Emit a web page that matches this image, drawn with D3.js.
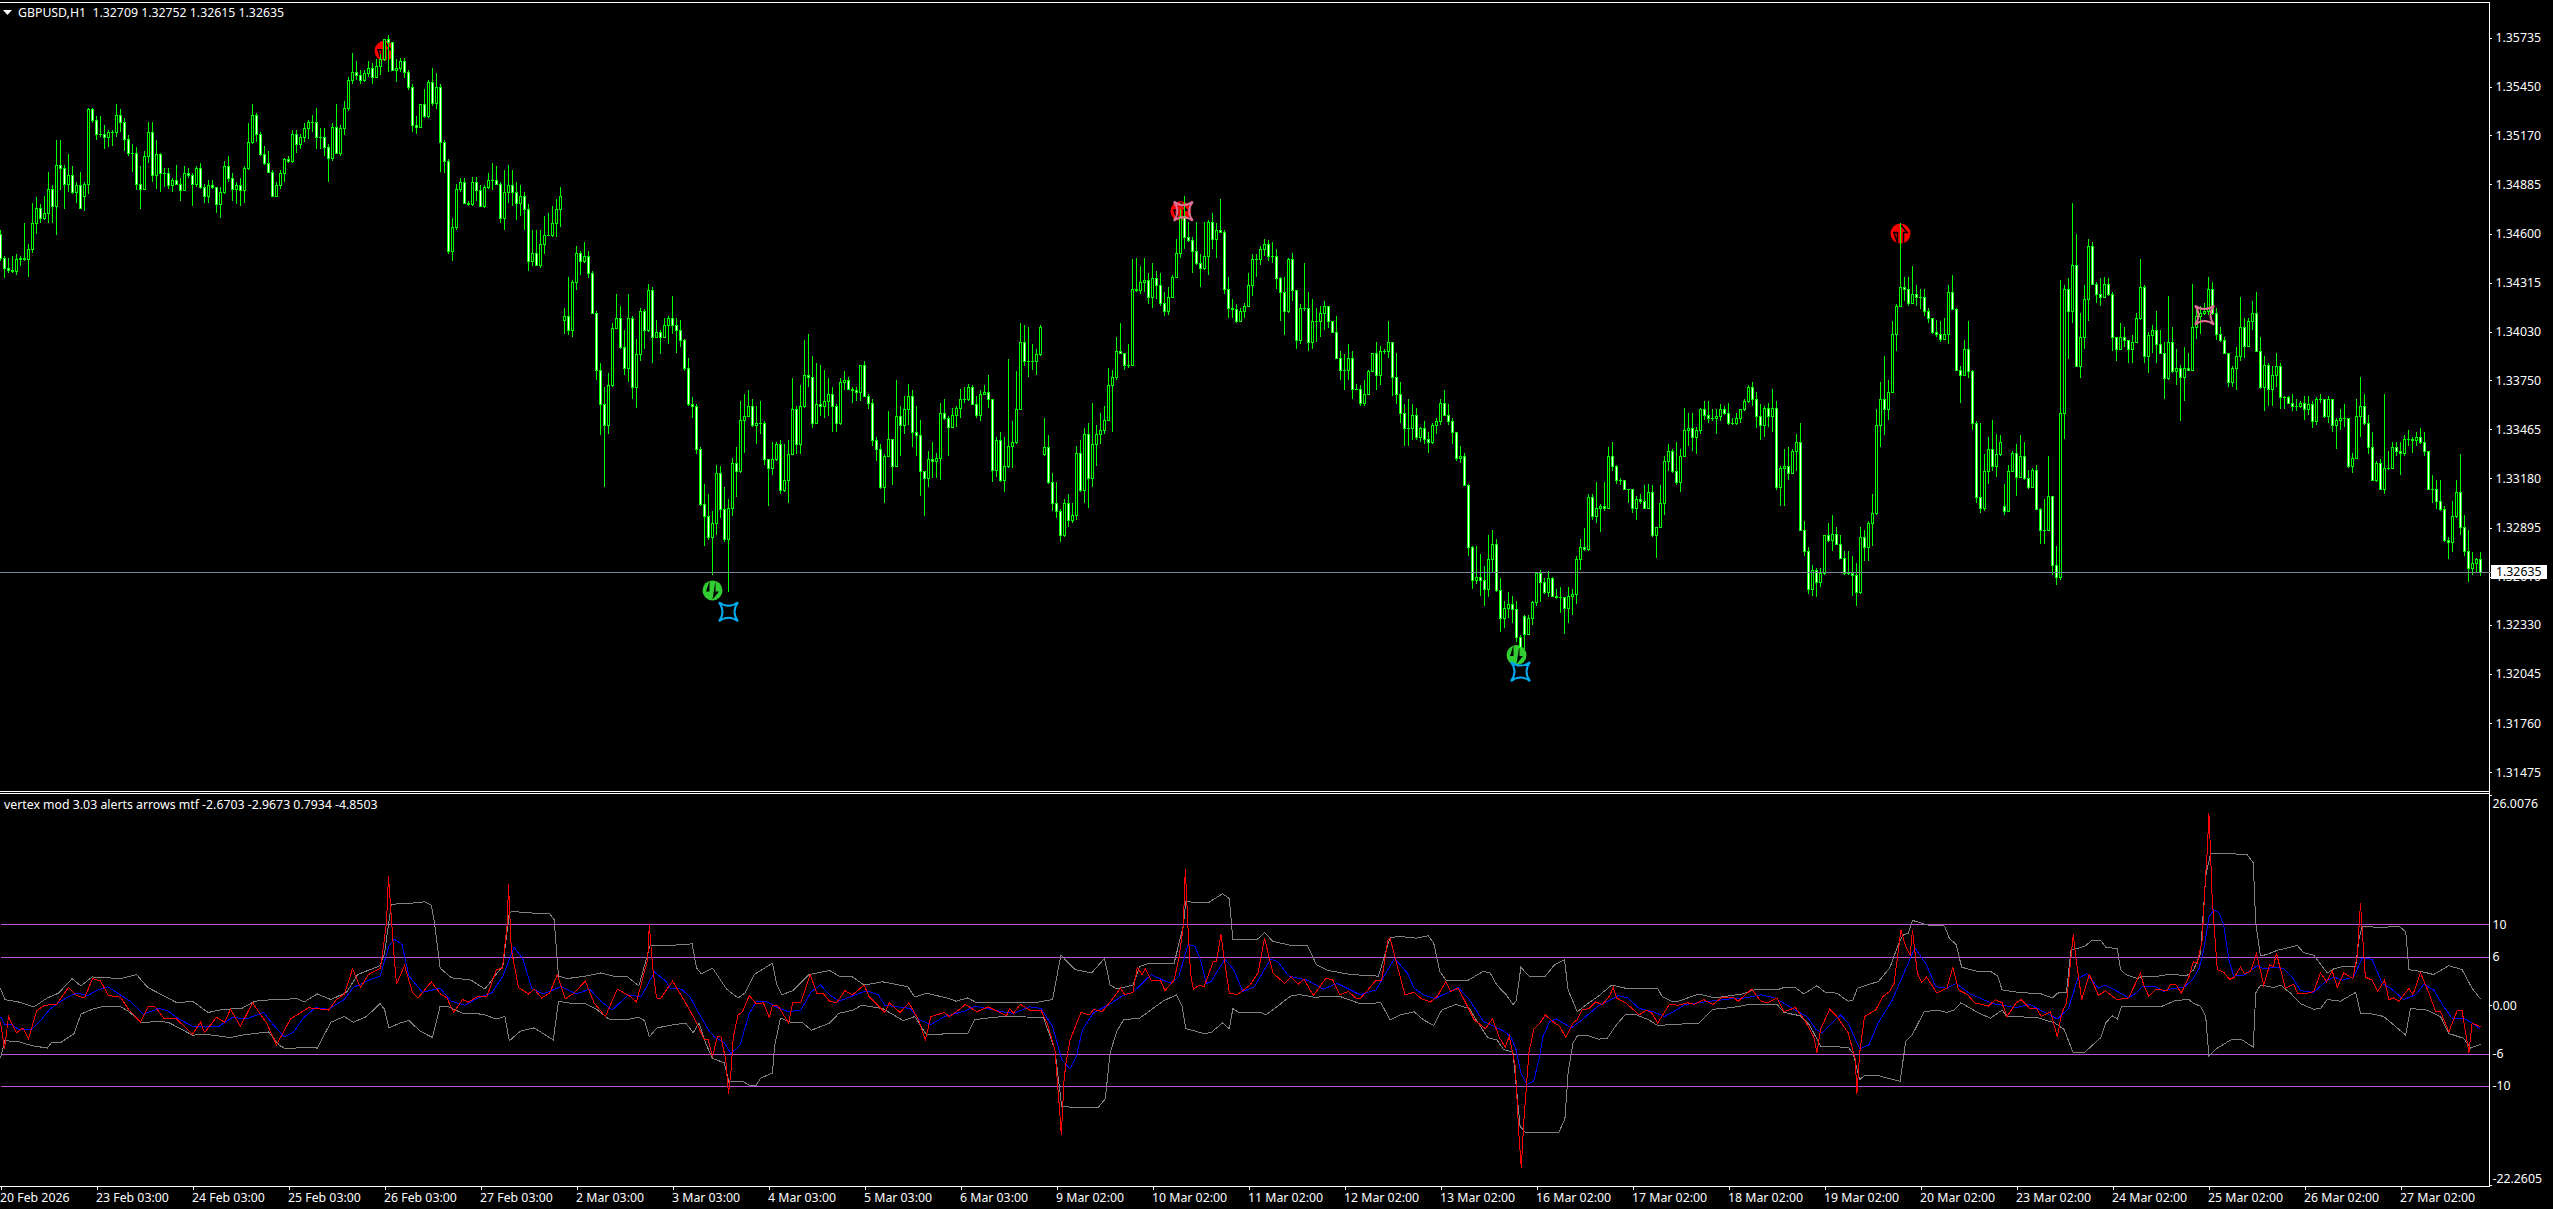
<!DOCTYPE html>
<html>
<head>
<meta charset="utf-8">
<script src="https://cdn.jsdelivr.net/npm/d3@7"></script>
<style>
	html, body { margin: 0; padding: 0; background: #000; overflow: hidden; }
	text { font-family: "Noto Sans", sans-serif; font-size: 12.3px; fill: #fff; }
</style>
</head>
<body>
<script>
// prices are pips above 1.3000, one value per hourly bar
const closes = [
	446,440,439,438,445,446,445,451,466,475, 469,472,486,476,500,498,489,494,484,488,
	475,489,532,526,518,518,516,519,519,529, 525,515,507,507,489,486,505,519,494,506,
	495,495,488,491,489,485,495,494,489,498, 487,482,488,487,477,484,499,492,486,488,
	485,498,513,529,518,506,501,496,482,488, 495,503,502,518,512,516,521,525,525,516,
	516,510,504,522,507,521,533,549,554,552, 549,553,556,551,557,561,573,571,555,556,
	560,554,545,523,522,535,528,548,536,545, 513,502,450,464,486,490,478,477,490,485,
	476,487,491,491,489,469,484,488,484,478, 482,474,444,449,442,454,459,459,466,474,
	482,412,404,432,449,444,447,437,414,381, 361,349,372,405,411,394,382,411,371,390,
	415,404,427,400,403,400,407,411,407,404, 398,382,361,360,335,303,296,284,292,321,
	300,283,301,327,322,352,354,360,349,350, 350,329,324,329,338,311,317,332,358,338,
	360,378,377,350,361,360,363,367,360,350, 374,375,370,369,368,384,366,362,340,335,
	313,331,341,325,354,349,358,366,345,343, 322,318,329,328,330,356,353,348,355,359,
	364,364,371,361,355,367,368,364,323,340, 317,325,337,339,358,397,386,386,386,390,
	406,336,316,304,299,285,304,294,297,333, 311,344,318,338,344,346,352,372,377,392,
	391,384,384,428,427,432,433,423,434,430, 420,415,423,435,449,470,458,456,450,443,
	440,447,467,457,462,461,428,417,416,409, 415,418,430,445,445,451,454,447,447,434,
	426,415,445,427,398,417,417,397,409,409, 414,418,409,403,388,381,381,388,370,370,
	362,367,380,391,378,392,392,397,377,367, 356,347,347,355,342,347,341,339,349,351,
	362,355,351,345,330,331,314,278,259,261, 259,254,271,280,253,237,243,245,242,226,
	220,228,237,246,263,258,252,260,250,249, 249,243,250,251,271,278,277,307,296,301,
	302,301,331,325,317,317,312,312,301,306, 305,301,310,285,290,304,328,334,322,316,
	331,346,347,342,346,358,355,353,353,354, 358,356,350,350,353,358,363,371,364,354,
	349,359,354,359,313,324,325,321,334,339, 288,276,254,265,258,263,285,282,286,280,
	272,263,263,262,252,284,278,292,298,349, 364,358,368,402,418,429,428,420,425,423,
	423,415,411,403,402,399,402,426,416,381, 378,393,380,350,307,301,322,335,325,332,
	339,299,322,333,319,331,318,313,323,300, 288,288,308,268,261,356,428,415,442,383,
	400,422,453,431,425,423,431,425,400,393, 400,398,393,397,411,429,389,401,404,396,
	391,376,397,380,382,377,382,381,406,412, 414,415,428,414,402,398,391,374,382,389,
	406,395,409,414,392,371,384,370,378,383, 365,365,362,360,360,362,358,361,351,364,
	364,354,364,349,352,353,353,325,330,354, 360,350,336,317,327,312,324,324,336,334,
	333,341,341,340,342,339,334,312,312,305, 300,282,281,296,310,290,276,266,269,271,263.5
]
const highs = [
	462,447,446,447,448,447,466,454,478,481, 477,482,496,488,514,514,500,506,499,490,
	496,490,533,533,528,528,523,520,520,535, 532,527,517,512,510,499,508,525,525,514,
	507,498,498,492,500,492,499,498,495,499, 501,489,491,491,487,487,502,505,495,490,
	492,499,524,535,530,519,511,508,497,490, 497,504,505,520,520,518,524,526,529,533,
	521,521,512,524,535,523,537,551,565,560, 555,555,560,559,561,564,573,575,564,561,
	562,562,555,547,528,535,544,549,556,553, 547,514,503,469,489,492,492,479,493,493,
	488,488,495,501,499,490,497,500,497,490, 488,484,477,462,462,462,470,472,476,480,
	487,417,435,433,453,450,455,450,438,415, 385,371,379,408,425,418,404,425,412,399,
	417,416,431,429,410,404,411,412,424,411, 410,399,388,365,361,336,315,309,299,326,
	325,313,306,330,336,363,367,369,364,360, 363,351,329,339,339,340,338,340,376,360,
	372,398,402,389,385,384,381,376,371,361, 376,380,377,371,371,384,386,367,364,342,
	338,332,357,341,375,360,366,373,369,360, 352,322,334,339,333,362,364,354,359,360,
	370,371,373,372,366,369,372,378,364,342, 345,342,387,351,380,408,407,406,396,393,
	407,353,343,321,316,300,306,309,304,337, 340,347,350,362,349,356,360,382,381,400,
	408,391,396,445,446,441,446,437,443,438, 437,426,429,436,457,474,482,467,458,467,
	448,467,468,472,466,480,462,435,422,419, 417,420,437,448,448,453,457,456,455,451,
	435,435,446,449,427,419,443,426,422,417, 418,421,418,409,412,392,390,396,392,373,
	372,375,381,391,397,395,393,409,397,391, 374,361,364,361,359,348,351,345,350,353,
	364,369,361,353,345,337,333,315,279,279, 274,267,285,288,283,260,247,252,250,247,
	227,239,239,247,263,265,260,264,261,254, 255,249,255,254,273,283,289,309,309,316,
	303,316,336,339,326,318,317,312,312,308, 309,314,315,314,290,314,331,338,335,339,
	335,359,356,356,348,359,363,363,358,358, 361,360,362,353,356,358,364,372,374,368,
	361,360,362,370,363,325,335,336,335,344, 350,293,278,268,266,266,285,292,297,290,
	285,276,276,273,269,290,288,293,309,358, 374,389,375,409,419,466,435,435,441,430,
	428,428,417,411,410,409,411,430,436,417, 383,398,409,381,351,350,332,342,352,344,
	343,315,326,334,338,343,339,323,324,326, 301,306,331,308,279,433,430,434,478,460,
	414,430,457,455,432,434,435,434,426,400, 408,406,398,401,414,445,430,403,407,415,
	404,397,424,406,393,384,394,391,431,418, 418,420,435,432,417,406,400,391,383,394,
	423,411,411,421,426,400,389,385,383,391, 385,366,366,367,364,363,366,366,363,365,
	367,364,366,364,353,358,361,353,333,364, 377,367,355,345,328,329,367,334,339,339,
	339,343,346,342,345,347,345,334,320,317, 317,302,284,305,317,332,297,288,275,272,275.2
]
const lows = [
	444,434,437,437,436,441,444,435,449,460, 466,468,466,466,459,485,474,484,483,478,
	474,473,483,524,514,516,509,510,511,516, 519,508,505,496,485,474,485,501,490,486,
	484,487,486,484,488,479,485,492,476,487, 486,478,478,486,472,469,483,490,479,477,
	476,478,497,512,513,505,500,495,482,482, 486,490,501,501,507,509,513,515,519,509,
	509,505,490,502,506,505,517,531,547,549, 547,548,551,547,551,552,560,554,555,548,
	554,550,543,519,518,522,527,527,534,532, 496,495,448,444,462,484,477,476,476,479,
	476,475,486,485,489,466,462,478,476,468, 470,462,438,441,442,440,448,459,458,458,
	464,402,401,400,427,436,443,434,414,375, 343,313,344,371,405,393,378,374,364,359,
	386,393,403,385,400,390,400,396,402,391, 394,380,360,353,332,302,279,282,262,285,
	295,281,252,296,307,321,333,354,348,338, 344,326,302,320,328,309,310,304,332,332,
	332,359,371,347,350,354,353,354,345,345, 349,369,369,362,363,363,366,358,337,328,
	312,304,331,314,325,331,344,349,336,331, 308,296,313,318,318,317,352,331,348,348,
	353,362,363,361,353,351,367,359,316,319, 316,310,324,324,338,358,383,377,381,378,
	389,331,315,299,295,281,284,290,292,294, 310,304,301,313,325,338,344,352,345,375,
	390,381,382,383,426,425,426,419,417,422, 418,412,413,423,435,446,451,455,437,442,
	429,439,436,451,446,461,425,411,411,408, 409,411,418,424,435,442,447,444,443,428,
	409,401,414,421,393,396,415,392,393,397, 400,404,405,403,387,375,369,375,364,369,
	360,360,367,380,369,372,390,388,366,361, 350,337,337,340,340,339,338,333,338,344,
	349,354,349,338,328,327,314,273,254,257, 250,244,249,263,252,229,231,237,234,223,
	219,219,228,233,244,246,251,249,249,248, 240,228,234,239,245,265,276,276,294,292,
	287,299,301,322,315,314,311,304,298,294, 303,300,301,284,272,289,297,322,321,314,
	310,331,337,334,332,344,352,350,351,344, 351,355,349,349,349,350,357,362,360,347,
	340,342,348,345,311,302,302,317,321,322, 288,273,251,250,249,255,262,281,276,280,
	271,262,262,250,244,251,270,270,279,297, 336,343,352,368,392,418,421,418,419,418,
	416,412,408,402,400,397,398,396,416,380, 362,378,376,346,304,298,299,315,322,319,
	331,297,299,322,308,318,317,312,313,300, 280,280,288,262,256,259,341,387,408,383,
	376,393,409,430,420,418,423,424,392,386, 393,394,385,385,397,410,385,379,391,385,
	390,364,375,379,372,351,363,381,381,399, 402,413,413,413,398,397,391,371,371,369,
	386,388,394,404,392,370,357,360,360,371, 358,358,361,357,357,359,352,355,347,349,
	362,353,350,345,335,346,348,324,321,329, 342,349,332,317,316,311,309,323,324,331,
	320,331,337,333,337,338,331,311,304,300, 299,281,271,275,295,285,273,258,262,263,261.5
]
// opens follow the previous close except on Monday gaps
const firstOpen = 460
const gapBars = [21, 141, 261, 381, 501]
const gapOpens = [482, 410, 332, 238, 302]

const priceTicks = [1.35735,1.3545,1.3517,1.34885,1.346,1.34315,1.3403,1.3375,1.33465,1.3318,1.32895,1.3261,1.3233,1.32045,1.3176,1.31475]
const lastPrice = 1.32635
const timeLabels = ["20 Feb 2026","23 Feb 03:00","24 Feb 03:00","25 Feb 03:00","26 Feb 03:00","27 Feb 03:00","2 Mar 03:00","3 Mar 03:00","4 Mar 03:00","5 Mar 03:00","6 Mar 03:00","9 Mar 02:00","10 Mar 02:00","11 Mar 02:00","12 Mar 02:00","13 Mar 02:00","16 Mar 02:00","17 Mar 02:00","18 Mar 02:00","19 Mar 02:00","20 Mar 02:00","23 Mar 02:00","24 Mar 02:00","25 Mar 02:00","26 Mar 02:00","27 Mar 02:00"]
const barsPerLabel = 24

// [bar, price in pips]
const downCircles = [[96, 566], [295, 473], [475, 460]]
const upCircles = [[178, 253], [379, 215.5]]
const blueStars = [[182, 240.6], [380, 205.9]]
const pinkStars = [[295.7, 473], [551, 412.7]]

const indicatorLevels = [10, 6, -6, -10]
const indicatorTicks = [26.0076, 10, 6, 0, -6, -10, -22.2605]

// [bar, value] read where each line turns
const mainLine = [[0,-2.1],[1,-5.4],[2,-1.4],[4,-3.4],[5.6,-2.8],[7,-4.2],[9,-.7],[11,0],[14,.1],[17,2.2],[19,1.2],[21,.9],[23,3.3],[25,3],[27,1.2],[30,1],[32,-.5],[35,-2.1],[37,-.1],[38.5,-.1],[41,-1.7],[44,-1.7],[48,-3.6],[50,-2.1],[51,-3.4],[54,-1.5],[56,-2.1],[57.5,-.5],[60,-2.6],[63,.3],[66.5,-2.2],[69,-4.9],[72.5,-1.7],[77,-.3],[82,-.6],[84,.7],[86,1.4],[88,4.5],[90,2.2],[92,3.8],[95,4.6],[96.5,10.2],[97,16],[98.2,7.3],[99,2.6],[101,4.9],[103,1.6],[104.4,.9],[107.7,2.9],[110,1.4],[111.6,.9],[113.3,-.9],[115.5,.7],[117,.4],[119.4,1.1],[121.6,1.1],[124,4.4],[125.5,4.6],[126.7,10.2],[127,15],[127.7,6.9],[129.5,2.2],[132,1.4],[133.4,2],[135.3,.9],[137.3,1.5],[139.2,3.8],[141.2,.8],[143.4,1.5],[146.2,3],[148.4,.3],[151.2,-1.4],[154.2,2],[157.4,1.1],[159,.4],[161.8,5.7],[162.2,10],[163,4.9],[164,.9],[165,.8],[168,3],[170.8,.7],[172.3,-.6],[174,-2.2],[176,-4.3],[176.9,-4.2],[178,-6.4],[179.2,-3.9],[180.1,-3.9],[181.3,-6.7],[182,-11],[182.6,-8.3],[183.2,-3.9],[184.4,-1.2],[185.5,-.8],[187.2,1.2],[188.9,.2],[190.7,.3],[192.2,-1.5],[193,0],[194.3,0],[197,-2.2],[198.1,.4],[200.1,.4],[202.4,3.8],[204.1,1.5],[205.6,1.5],[207.3,.5],[209,.3],[211.1,1.8],[213,1.3],[215.9,2.5],[217.1,1.1],[221.1,-.9],[222.2,.3],[224.9,-.9],[227.1,.3],[229.7,-2],[231.2,-4.3],[232.6,-1.4],[236,-.9],[237.2,-1.4],[239.5,-.6],[241.2,.1],[244.1,-.8],[246.9,-.2],[251.5,-1.3],[252.3,-.4],[253.2,-1],[255,.1],[257.3,-.6],[260.1,-.6],[261.8,-2.4],[263.6,-5.5],[264.7,-12.5],[265.2,-16.1],[265.9,-9.2],[266.4,-7],[267.4,-4.3],[270.1,-.9],[272.2,-1.2],[273.3,-.5],[275.4,-.8],[277.9,.7],[280,2.1],[281.1,1.3],[283.1,1.6],[284.2,4.7],[285.4,3.8],[286.2,4.5],[287.7,3.1],[290,3.1],[291.1,1.8],[293.4,3.1],[294.6,5.8],[295.7,9.8],[296.2,16.9],[296.9,9.3],[297.5,4],[298.2,2],[299.7,2.5],[300.9,2.3],[303.2,5.4],[304,5.4],[305.1,8.8],[306,5.5],[307.2,1.5],[309.2,1.3],[312.4,2.5],[314.4,4],[316,8.3],[318.1,4],[321,2.7],[322.7,3.5],[324.4,2.6],[325.9,3.2],[328.2,1.2],[331.3,3.3],[333,3.2],[334.8,1.3],[337,1.7],[338.8,.9],[339.9,.8],[342.2,2.1],[343.9,3.1],[345.3,3.1],[346.8,8],[347.4,8.3],[350,3.35],[351.1,1.3],[353.4,1.6],[355.2,.8],[357.5,.4],[359.2,1.1],[361.3,2.9],[362.6,1.7],[364.4,2.1],[366.1,.5],[368.4,-1.8],[371.2,-2.9],[373,-1.7],[374.7,-4],[376.2,-5.2],[377.2,-3.8],[378.7,-7.6],[379.6,-16],[380.2,-20.2],[380.8,-14.6],[382.1,-5.9],[383.3,-3],[385,-2.1],[386.2,-1.2],[388.5,-2.2],[389.8,-2.6],[391.3,-4],[393.1,-2.2],[394.2,-1.8],[395.4,-.6],[397.1,-.4],[398.8,.4],[400.5,.1],[402.2,1.1],[403.2,2.2],[404,.9],[406.3,.3],[409.7,-1.2],[411.4,-.6],[412.9,-1],[414.3,-2.2],[417.2,.1],[419.5,0],[421.8,.3],[423.5,.1],[425.8,.7],[428.1,.1],[430.4,1],[433.2,1],[434.4,.5],[437.8,2],[440.1,.5],[441.8,.3],[444.1,.9],[445.9,-.8],[448.7,-.3],[451,-1.8],[453.3,-3.9],[454.1,-5.9],[455,-3],[457.3,-.5],[459.1,-1.4],[461.9,-3.4],[463.7,-6.7],[464.1,-11],[464.8,-5.9],[466,-1.4],[468.8,-.6],[470.6,1.1],[472.3,1.7],[473.4,2.7],[475.1,9.3],[476.3,7.3],[477.4,6.2],[478,9.3],[479.2,4],[480.3,2.8],[481.5,3.5],[484.1,1.5],[486.6,2.1],[488.1,4.7],[489.5,1.9],[491.8,1.3],[493.5,.3],[497,-.1],[498.7,.7],[500.4,.3],[501.6,-1.4],[503.9,.3],[505.2,.7],[507.3,-.4],[509,-.4],[510.2,-1.4],[512.5,-.8],[514.2,-3.9],[515.3,-1],[516.5,.3],[518.2,8.8],[518.8,6],[520.3,.7],[522.2,3.8],[524.5,1.2],[526.2,1.8],[529.1,.7],[532,.9],[533.75,2.7],[535,4],[535.8,2.5],[537.1,1.1],[538.8,2],[541.7,1.8],[542.5,2.6],[543.8,2.6],[545.2,1.5],[547.1,3.5],[548.2,5.4],[549.2,5.2],[550.4,8],[551.2,15.4],[551.7,19.1],[552.1,23.8],[552.5,19.1],[552.9,13.4],[553.3,10.5],[554.2,4.4],[555.8,4.1],[557.3,3.2],[558.5,3.5],[560,4.7],[561,3.9],[562.5,4.2],[564,6.4],[565.8,2.5],[567.3,5],[568.2,4.8],[569,6.4],[571.2,2.1],[573.3,2.6],[574.3,1.4],[576.7,1.5],[578.3,1.7],[580,4],[581.5,2.9],[582.9,4.3],[584.2,2.2],[585.8,4],[588.1,3.3],[589.2,6.2],[590,12.6],[590.4,9.5],[591.2,3.5],[592.9,3.1],[594.3,1.7],[596,3.1],[597.1,.7],[598.2,.9],[599.6,.5],[602.1,2.1],[603.1,1.3],[605,4],[607.1,1.5],[608.8,-.8],[610,-.8],[612.1,-3.3],[614.2,-.6],[615.4,-.7],[617.1,-5.9],[617.9,-2.2],[620,-2.67]]

const signalLine = [[0,-1.4],[1.1,-2.4],[2.8,-2.4],[4.5,-3],[6.1,-3],[7.8,-3],[10,-1.9],[12.3,-.5],[14.5,.3],[16.7,1],[19,1.5],[21.8,1.2],[24,1.8],[26.8,2.3],[29.6,1.4],[32.4,.5],[35.7,-1.1],[39.6,-.4],[41.9,-.7],[44.6,-1.7],[48,-2.6],[51.3,-2.7],[54.7,-2.6],[58,-1.5],[61.4,-1.7],[65.8,-.9],[68,-2.3],[70.9,-3.9],[73.1,-3.4],[75.9,-1.5],[78.7,-.3],[82,-.5],[85.9,.7],[88.2,2.2],[92.6,3.2],[94.9,3.6],[97.1,7.3],[98.4,8.2],[100.4,7.5],[102.1,3.6],[105.5,1.6],[109.9,2.1],[112.7,.5],[116.1,0],[119.4,.9],[122.8,1.5],[125.6,3.6],[128.4,7.2],[130.6,5.7],[132.8,2.1],[135.6,1.4],[140.1,2.3],[144,1.4],[147.3,2],[150.1,.5],[152.9,-.6],[156.8,1.2],[160.2,1.1],[163.5,4.1],[166.3,3],[167.4,2.1],[170.2,2],[172.3,1.1],[174.6,-1],[176.9,-3],[178.6,-4],[180.9,-4.6],[182.6,-6],[184.9,-4.9],[187.2,-1],[188.9,.4],[191.2,.5],[194.7,-.4],[197,-.8],[200.1,-.6],[202.7,1.7],[205,2.5],[207.3,1.3],[209.6,.5],[216.5,1.8],[219.4,1.3],[221.1,0],[227.4,-.4],[229.7,-1.8],[232.6,-2.4],[236,-1.4],[241.2,-.7],[243.5,-.1],[250.4,-.8],[253.2,-1],[257.3,-.2],[260.1,-.4],[263,-2.6],[265.3,-6.7],[267.4,-7.9],[269,-6.3],[270.5,-3],[273.3,-.9],[277.3,.1],[280.2,1.1],[283.1,1.6],[287.7,3.8],[290.6,3.1],[292.8,2.7],[294.6,3.6],[296.9,7.5],[298.6,7.3],[300,5.6],[301.5,2.7],[302.6,2.9],[306.1,5.7],[308.3,4.4],[310.6,1.7],[313.5,2.3],[317.5,5.7],[319.3,5.4],[322.1,3.6],[326.7,3.1],[330.7,2],[334.2,2.7],[339.9,1.3],[343.9,1.9],[348.5,5.8],[351.7,4],[353.4,2.1],[355.7,1.3],[358.6,.8],[361.5,1.5],[364.4,2.2],[367.2,.7],[370.7,-2],[372.4,-2.4],[375.8,-3.2],[377.6,-3.9],[378.9,-5.5],[380.1,-8.4],[381.6,-9.8],[383.3,-9.4],[384.8,-6.3],[385.6,-3.9],[387.3,-2],[389,-1.7],[392.7,-2.8],[395.4,-1.8],[399.4,-.1],[404.5,1.2],[406.8,.9],[409.7,-.4],[413.1,-.8],[416,-1.4],[418.9,-.6],[421.2,.1],[425.8,.4],[432.7,.8],[436.1,.9],[440.1,1.3],[443.6,.9],[448.7,-.6],[451.6,-1.4],[453.9,-3],[455.4,-3.4],[457.9,-2.2],[460,-1.2],[461.9,-2.2],[464.8,-5.4],[467.1,-4.9],[469.4,-2.2],[472.8,.5],[475.7,3.8],[478.6,7.1],[481.5,5],[483.8,2.3],[486.6,2.1],[488.9,2.7],[492.4,1.4],[498.1,.2],[503.9,-.3],[507.3,.1],[514.2,-1.7],[517,-.4],[519.3,3.3],[521.6,3.9],[524.5,2.1],[526.2,2.5],[530,1.5],[532.1,.9],[533.8,1.5],[535.4,2.3],[538.8,2.3],[540.8,1.7],[543.3,2.1],[545.8,2.2],[547.9,3.1],[549.6,4.5],[550.8,6.8],[552.1,10.9],[553.3,11.8],[554.6,11.5],[555.8,9.9],[557.1,5.6],[558.3,3.6],[560.8,3.7],[564.2,4.9],[565.8,4.5],[568.8,4.7],[570.8,4.5],[572.9,3.5],[575,1.8],[578.3,1.6],[581.7,3.1],[583.3,3.5],[585.4,3.1],[588.3,3.5],[590.4,5.8],[592.9,5.7],[595.4,2.7],[597.5,2.1],[600.8,.7],[603.8,1.3],[605.8,2.6],[608.3,1.9],[610.8,-.2],[612.9,-1.6],[615.8,-1.6],[617.9,-2.2],[620,-2.97]]

const upperBand = [[0,2.1],[1.1,.7],[4.5,.4],[8.4,-.2],[11.7,.9],[14.5,1.5],[17.9,3.3],[20.1,2.4],[22.9,3.5],[30.1,3.3],[34,3.8],[36.8,2.2],[40.7,1.2],[44.1,.3],[48,.5],[51.9,-.9],[55.8,-.5],[60.3,-.4],[63.6,.5],[68.1,.7],[74.2,.8],[75.9,.4],[79.2,1.4],[82.6,.7],[86.5,1.6],[89.3,3.8],[94.9,4.9],[96,6.4],[97.7,12.5],[102.1,12.6],[106,12.8],[107.7,12.4],[108.5,10.2],[109.9,4.6],[112.7,3.4],[117.7,3.1],[121.1,2],[125.6,4.9],[127.2,11.4],[127.8,11.6],[133.4,11.4],[137.3,11.3],[138.4,10.6],[139.5,3.6],[141.7,3.3],[146.2,3.6],[150.1,4],[154,3.5],[156.8,3.5],[159.6,2.4],[162.4,7.4],[167.4,7.4],[172.9,7.6],[174,4.6],[175.2,3.9],[178,4.6],[181.5,2],[184.4,.9],[186.1,1.5],[188.4,3.8],[193,5.2],[194.1,2.5],[195.3,1.3],[198.1,1.8],[202.1,3.8],[207.3,4.3],[209.6,3.6],[212.7,3.6],[215.9,2.5],[220.5,2.9],[226.8,2.3],[228.6,1],[231.4,1.5],[236.6,.9],[238.9,.5],[241.8,.9],[244.1,.3],[250.4,.4],[258.4,.3],[263,.7],[265.1,6.2],[268.7,4.4],[272.8,4],[276,5.8],[277.4,2.5],[279.1,2],[283.1,2.5],[284.8,4.8],[287.1,5.2],[293.4,5.2],[295.7,9.8],[296.3,12.8],[302,12.7],[305.5,13.8],[307.2,13.2],[308.1,8.1],[314.1,8.1],[316,9],[318.1,7.9],[322.7,7.4],[326.7,7.4],[329,5],[331.9,4.3],[337.6,3.8],[344.5,3.6],[347.4,8.4],[350,8.5],[354,8.3],[356.9,8.6],[358.3,7.7],[359.8,4.2],[361.5,3],[366.6,3],[370.7,4.2],[372.4,4],[374.1,2.5],[376.4,1.3],[378.1,.1],[378.9,.5],[380.1,4.7],[382.1,3.6],[386.2,3.6],[388.5,5],[391,5.6],[391.9,1.9],[394.2,-.8],[396.5,.1],[399.4,1.1],[402.8,2.5],[406.3,2.1],[414.3,2.1],[415.4,1.1],[417.7,.5],[419.5,.5],[424.6,1.4],[428.6,.9],[435.5,1.4],[438.4,1.9],[444.1,1.9],[445.9,2.2],[448.7,2.2],[450.8,1.4],[454.1,2.4],[456.2,1.6],[459.1,1.5],[461.9,.5],[463.1,.6],[464.2,2.1],[467.1,2.6],[469.4,2.9],[472.3,4.6],[474.6,7.7],[475.7,8.7],[476.9,8.9],[478,10.5],[482,9.9],[486,9.8],[487.2,8.3],[488.9,7.5],[490.3,4.7],[494.1,4.2],[497.5,4.2],[499.3,3.6],[500.4,1.9],[504.4,1.6],[510.2,1.4],[513,.9],[514.2,1.5],[516.5,1.6],[517.6,6.8],[521.1,7.3],[522.8,8],[525.1,8],[526.3,7.2],[529.2,7],[530,4.4],[531.3,3.8],[534.2,3.3],[535.4,3.6],[538.3,3.5],[541.7,3.8],[546.7,3.7],[548.3,4.4],[550,6.4],[551.3,15.9],[552.5,18.8],[556.7,18.8],[561.7,18.6],[563.2,17.6],[563.8,10.2],[565,6.1],[566.7,6.3],[569.2,6.8],[574.2,7.4],[575.8,6.5],[578.3,6.2],[580.4,4.8],[581.7,4],[583.3,4.5],[585.8,4.8],[588.8,4.8],[589.6,8.1],[590.4,9.8],[595,9.6],[599.6,9.8],[601.3,9.1],[602.1,4.4],[605,4.2],[608.3,3.8],[612.1,4.9],[615.4,4.4],[617.9,2.1],[620,.79]]

const lowerBand = [[0,-6.5],[1.1,-4.4],[4.5,-4.5],[7.8,-5],[11.7,-5.3],[12.8,-4.6],[15.1,-4.6],[18.4,-3.5],[20.1,-1.1],[22.9,-.5],[26.2,-.1],[30.1,-.2],[32.4,-.9],[35.2,-2.2],[38.5,-2],[41.9,-2.1],[48,-3.7],[51.3,-3.6],[57.5,-4],[60.3,-3.7],[67,-3.3],[69.8,-5],[71.4,-5.4],[75.9,-5.2],[79.2,-5.3],[82.6,-2.1],[85.9,-1.4],[88.2,-2.1],[91.5,-1.4],[94.9,.2],[96,-.5],[97.1,-2.8],[99.9,-2.2],[102.1,-1.9],[104.9,-3.2],[108,-4],[109.9,-.1],[111.6,-.1],[115.5,-1],[120.5,-1.1],[123.9,-1.7],[126.1,-1.4],[127.2,-4.4],[130,-3.2],[133.4,-2.8],[138.2,-4.3],[139.5,.5],[142.9,.2],[146.2,.2],[149,-.5],[152.3,-1.8],[156.3,-1.8],[159.6,-1.5],[161,-1.9],[162.2,-3.9],[164.1,-2.8],[168.5,-2.4],[171.3,-2.2],[173.2,-3.4],[174.6,-2.2],[176.3,-4.7],[178,-6.6],[180.9,-7.1],[182.1,-9.5],[185.5,-9.4],[187.2,-9.9],[188.9,-9.9],[190.1,-9],[193,-8.4],[193.5,-5.1],[195,-1.6],[197.6,-2.1],[200.4,-2.1],[202.7,-3.1],[207.3,-2.2],[209.6,-1],[213.1,-.6],[215.3,0],[220.5,-.4],[225.7,-1.9],[228.6,-1.4],[231.4,-3.6],[241.8,-3.5],[243.5,-1.8],[248.1,-1.5],[250.9,-1.4],[260.7,-1.5],[263.6,-5.5],[265.3,-12.5],[269.3,-12.7],[274.5,-12.6],[276.2,-11.6],[277.4,-5.9],[279.1,-3.2],[280.8,-1.8],[284.8,-1.6],[290.6,.5],[294,1.3],[295.4,-.1],[296.3,-2.9],[300.9,-3.5],[302.6,-3.4],[305.5,-2.2],[307.2,-2.9],[308.1,-.4],[309.5,-.9],[315.2,-.9],[316.4,-1.2],[319.3,-.1],[322.7,1.2],[325,1.3],[328.4,1],[334.8,1.1],[339.9,.2],[345.1,.3],[347.4,-1.8],[350,-1.2],[353.4,-.8],[355.7,-1.8],[358.3,-2.5],[360.3,-.6],[363.8,.1],[367.2,-.4],[368.9,-1.8],[371.8,-4],[374.1,-4.3],[375.8,-5.5],[378.1,-5.8],[378.7,-8.8],[379.9,-15],[381.2,-15.7],[385.6,-15.8],[389.6,-15.7],[391.1,-14.1],[391.9,-8.4],[393.1,-4.7],[394.2,-3.8],[397.1,-3.8],[399.4,-4.2],[401.7,-4.1],[404,-2.4],[406.3,-1.1],[408.6,-1.1],[412,-1.8],[414.3,-2.5],[424.6,-2.2],[428.1,-.5],[432.7,-.3],[437.3,.1],[444.1,.1],[445.9,-.9],[449.9,-1.3],[452.2,-2.4],[455.1,-5.1],[461.9,-5.2],[463.1,-5.9],[464.8,-9.2],[466,-8.7],[469.4,-8.7],[472.3,-9.1],[474.9,-9.4],[476.3,-4.5],[478,-3.6],[480.9,-.8],[484.3,-.6],[486.6,-.9],[488.4,-.6],[490.1,.3],[494.7,-1],[497.5,-1.6],[500.4,-.6],[501.6,-1.4],[509,-1.5],[513.6,-2.2],[515.9,-3],[518.2,-5.9],[521.1,-5.8],[525.1,-4],[526.3,-2.2],[527.9,-1.3],[529.2,-1.7],[530.2,-.2],[533.3,-.2],[534.6,-.1],[537.5,-.2],[540,-.2],[543.8,.6],[547.1,.7],[548.3,.2],[550,-.1],[551.3,-1.4],[552.1,-6.3],[554.2,-5.3],[557.9,-4.2],[560.4,-4.3],[563.2,-5.2],[563.8,1.5],[565,2.5],[568.3,2.2],[570,2.5],[572.5,1.5],[575,.2],[578.3,-.5],[580,-.4],[581.7,.7],[585,.5],[588.8,1.6],[590,-1],[593.3,-1.1],[595.8,-1.4],[601.3,-3.7],[602.5,-.4],[606.7,-.6],[610,-1.4],[612.1,-3.5],[615.8,-4.1],[617.5,-5.3],[620,-4.85]]

const width = 2553
const height = 1209
const axisX = 2489
const bullColor = "#00ff00"

const svg = d3
	.select("body")
	.append("svg")
	.attr("width", width)
	.attr("height", height)
	.style("display", "block")
	.style("background", "#000")

const xScale = d3.scaleLinear().domain([0, 620]).range([0.5, 2480.5])
const priceY = d3.scaleLinear().domain([1.31475, 1.35735]).range([772.3, 37.9])
const indicatorY = d3.scaleLinear().domain([-22.2605, 26.0076]).range([1185.1, 795.1])
const pipsY = (pips) => priceY(1.3 + pips / 10000)

// Candle table from the arrays above
const candles = closes.map((close, i) => {
	const gap = gapBars.indexOf(i)
	const open = i === 0 ? firstOpen : gap >= 0 ? gapOpens[gap] : closes[i - 1]
	return { i, open, close, high: highs[i], low: lows[i] }
})

function drawFrame() {
	const frame = svg.append("g").attr("stroke", "#fff").attr("shape-rendering", "crispEdges")
	frame.append("line").attr("x1", 0).attr("x2", axisX).attr("y1", 2.5).attr("y2", 2.5)
	frame.append("line").attr("x1", 0).attr("x2", axisX).attr("y1", 791.5).attr("y2", 791.5)
	frame.append("line").attr("x1", 0).attr("x2", axisX).attr("y1", 793.5).attr("y2", 793.5)
	frame.append("line").attr("x1", 0).attr("x2", axisX).attr("y1", 1186.5).attr("y2", 1186.5)
	frame.append("line").attr("x1", axisX + 0.5).attr("x2", axisX + 0.5).attr("y1", 2).attr("y2", 1187)
}

function drawMarkerCircle(data, color, dir, outlined) {
	const g = svg
		.append("g")
		.selectAll("g")
		.data(data)
		.join("g")
		.attr("transform", (d) => `translate(${xScale(d[0])},${pipsY(d[1])})`)
	g.append("circle").attr("r", 10).attr("fill", color)
	g.append("path")
		.attr("fill", outlined ? "none" : "#000")
		.attr("stroke", outlined ? "#000" : "none")
		.attr("stroke-width", 1.5)
		.attr("d", `M0,${-9 * dir}L6.5,${-1 * dir}L3,${-1 * dir}L3,${10 * dir}M-3,${10 * dir}L-3,${-1 * dir}L-6.5,${-1 * dir}Z`)
}

function drawCandles() {
	const rows = svg
		.append("g")
		.attr("shape-rendering", "crispEdges")
		.selectAll("g")
		.data(candles)
		.join("g")
		.attr("transform", (d) => `translate(${d.i * 4},0)`)

	rows.append("rect")
		.attr("width", 1)
		.attr("y", (d) => Math.round(pipsY(d.high)))
		.attr("height", (d) => Math.max(1, Math.round(pipsY(d.low)) - Math.round(pipsY(d.high))))
		.attr("fill", bullColor)

	const top = (d) => Math.round(pipsY(Math.max(d.open, d.close)))
	const bottom = (d) => Math.round(pipsY(Math.min(d.open, d.close)))

	rows.append("rect")
		.attr("x", -1)
		.attr("width", 3)
		.attr("y", top)
		.attr("height", (d) => bottom(d) - top(d) + 1)
		.attr("fill", bullColor)

	rows.append("rect")
		.attr("y", (d) => top(d) + 1)
		.attr("width", 1)
		.attr("height", (d) => Math.max(0, bottom(d) - top(d) - 1))
		.attr("fill", (d) => (d.close < d.open ? "#fff" : "#000"))
}

function drawStars(data, color) {
	svg.append("g")
		.selectAll("path")
		.data(data)
		.join("path")
		.attr("transform", (d) => `translate(${xScale(d[0])},${pipsY(d[1])})`)
		.attr("fill", "none")
		.attr("stroke", color)
		.attr("stroke-width", 2)
		.attr("d", "M-9.5,-9.5Q-5,-6 0,-6Q5,-6 9.5,-9.5Q6,-5 6,0Q6,5 9.5,9.5Q5,6 0,6Q-5,6 -9.5,9.5Q-6,5 -6,0Q-6,-5 -9.5,-9.5Z")
}

function drawPriceAxis() {
	const axis = svg
		.append("g")
		.attr("transform", `translate(${axisX},0)`)
		.call(
			d3
				.axisRight(priceY)
				.tickValues(priceTicks)
				.tickSize(3)
				.tickPadding(3.5)
				.tickFormat(d3.format(".5f"))
		)
	axis.select(".domain").remove()
	axis.selectAll("line").attr("stroke", "#fff").attr("shape-rendering", "crispEdges")
	axis.selectAll("text").attr("fill", "#fff").attr("font-family", null).attr("font-size", null)
	axis.attr("font-family", null).attr("font-size", null)

	// current price line and flag
	const y = Math.round(priceY(lastPrice)) + 0.5
	svg.append("line")
		.attr("x1", 0)
		.attr("x2", axisX + 2)
		.attr("y1", y)
		.attr("y2", y)
		.attr("stroke", "#778899")
		.attr("shape-rendering", "crispEdges")
	svg.append("rect").attr("x", axisX + 2).attr("y", y - 7.5).attr("width", 56).attr("height", 14).attr("fill", "#fff")
	svg.append("text")
		.attr("x", axisX + 7)
		.attr("y", y)
		.attr("dy", "0.32em")
		.style("fill", "#000")
		.text(d3.format(".5f")(lastPrice))
}

function drawIndicator() {
	const levels = svg.append("g").attr("shape-rendering", "crispEdges")
	levels
		.selectAll("line")
		.data(indicatorLevels)
		.join("line")
		.attr("x1", 1)
		.attr("x2", axisX)
		.attr("y1", (d) => Math.round(indicatorY(d)) + 0.5)
		.attr("y2", (d) => Math.round(indicatorY(d)) + 0.5)
		.attr("stroke", "#ba55d3")

	const line = d3
		.line()
		.x((d) => xScale(d[0]))
		.y((d) => indicatorY(d[1]))

	const series = [
		{ data: upperBand, color: "#808080" },
		{ data: lowerBand, color: "#808080" },
		{ data: signalLine, color: "#0000ff" },
		{ data: mainLine, color: "#ff0000" },
	]
	series.forEach((s) => {
		svg.append("path")
			.datum(s.data)
			.attr("fill", "none")
			.attr("stroke", s.color)
			.attr("stroke-width", 1)
			.attr("shape-rendering", "crispEdges")
			.attr("d", line)
	})

	const axis = svg
		.append("g")
		.attr("transform", `translate(${axisX},0)`)
		.call(
			d3
				.axisRight(indicatorY)
				.tickValues(indicatorTicks)
				.tickSize(3)
				.tickPadding(0.5)
				.tickFormat((d) => (d === 0 ? "0.00" : String(d)))
		)
	axis.select(".domain").remove()
	axis.attr("font-family", null).attr("font-size", null)
	axis.selectAll("text").attr("fill", "#fff")
	axis.selectAll("line").attr("stroke", "#fff").attr("shape-rendering", "crispEdges")
	axis.selectAll(".tick").filter((d) => indicatorLevels.includes(d)).select("line").remove()
	// the two range labels sit inside the pane
	axis.selectAll(".tick").filter((d) => d === 26.0076).select("text").attr("dy", "1.0em")
	axis.selectAll(".tick").filter((d) => d === -22.2605).select("text").attr("dy", "-0.2em")
}

function drawTimeAxis() {
	const axis = svg
		.append("g")
		.attr("transform", "translate(0,1186)")
		.call(
			d3
				.axisBottom(xScale)
				.tickValues(timeLabels.map((_, i) => i * barsPerLabel))
				.tickSize(4)
				.tickFormat((d) => timeLabels[d / barsPerLabel])
		)
	axis.select(".domain").remove()
	axis.attr("font-family", null).attr("font-size", null)
	axis.selectAll("line").attr("stroke", "#fff").attr("shape-rendering", "crispEdges")
	axis.selectAll("text")
		.attr("fill", "#fff")
		.attr("text-anchor", "start")
		.attr("x", -1)
		.attr("y", 7.5)
}

function drawHeaders() {
	svg.append("path").attr("d", "M3,10L12,10L7.5,15Z").attr("fill", "#fff")
	svg.append("text").attr("x", 18).attr("y", 17).style("white-space", "pre").text("GBPUSD,H1  1.32709 1.32752 1.32615 1.32635")
	svg.append("text").attr("x", 4).attr("y", 809).text("vertex mod 3.03 alerts arrows mtf -2.6703 -2.9673 0.7934 -4.8503")
}

drawFrame()
drawMarkerCircle(downCircles, "#ff0000", 1, true)
drawMarkerCircle(upCircles, "#32cd32", -1, false)
drawCandles()
drawStars(blueStars, "#00aaee")
drawStars(pinkStars, "#db7093")
drawPriceAxis()
drawIndicator()
drawTimeAxis()
drawHeaders()
</script>
</body>
</html>
